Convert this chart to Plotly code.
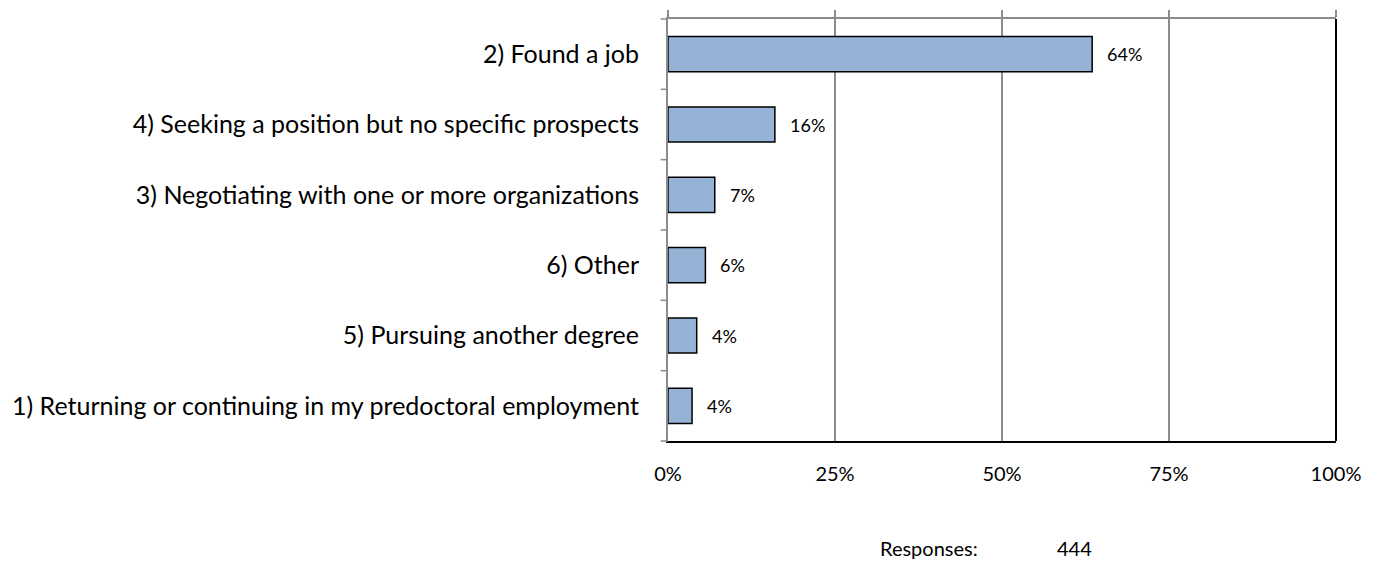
import plotly.graph_objects as go

categories = [
    "2) Found a job",
    "4) Seeking a position but no specific prospects",
    "3) Negotiating with one or more organizations",
    "6) Other",
    "5) Pursuing another degree",
    "1) Returning or continuing in my predoctoral employment",
]
values = [63.5, 16.0, 7.0, 5.6, 4.3, 3.6]
value_labels = ["64%", "16%", "7%", "6%", "4%", "4%"]
x_ticks = [0, 25, 50, 75, 100]
x_tick_labels = ["0%", "25%", "50%", "75%", "100%"]
responses = 444

FONT = "Lato"
W, H = 1377, 562
L, R, T, B = 663, 41, 14, 121

fig = go.Figure()
fig.add_trace(go.Bar(
    x=values, y=categories, orientation="h",
    marker=dict(color="#95B3D7", line=dict(color="#000000", width=1.5)),
    width=0.5, xaxis="x", yaxis="y", hoverinfo="skip",
))
# invisible trace to activate bottom axis
fig.add_trace(go.Bar(x=[None], y=[categories[0]], orientation="h", xaxis="x2", yaxis="y",
                     showlegend=False, hoverinfo="skip"))

for v, c, lab in zip(values, categories, value_labels):
    fig.add_annotation(x=v, y=c, xref="x", yref="y", text=lab, showarrow=False,
                       xanchor="left", yanchor="middle", xshift=13,
                       font=dict(family=FONT, size=18, color="#000"))

fig.update_layout(
    width=W, height=H, margin=dict(l=L, r=R, t=T, b=B),
    plot_bgcolor="white", paper_bgcolor="white", showlegend=False,
    font=dict(family=FONT, color="#000"),
    bargap=0.5,
    xaxis=dict(range=[0, 100], side="top", tickvals=x_ticks, showticklabels=False,
               showgrid=True, gridcolor="#8c8c8c", gridwidth=1.5,
               showline=True, linecolor="#8c8c8c", linewidth=2,
               ticks="outside", ticklen=7, tickcolor="#8c8c8c", tickwidth=1.5,
               zeroline=False, fixedrange=True),
    xaxis2=dict(range=[0, 100], side="bottom", overlaying="x", tickvals=x_ticks,
                ticktext=x_tick_labels, showgrid=False, showline=True,
                linecolor="#000", linewidth=2, ticks="", ticklabelstandoff=14,
                tickfont=dict(family=FONT, size=20, color="#000"), zeroline=False),
    yaxis=dict(autorange="reversed", showgrid=False, showline=True,
               linecolor="#8c8c8c", linewidth=2, ticks="",
               tickfont=dict(family=FONT, size=25, color="#000"), ticklabelstandoff=22),
)

# category boundary tick marks on the left axis
n = len(categories)
for i in range(n + 1):
    fig.add_shape(type="line", xref="paper", yref="y domain", x0=-0.011, x1=0,
                  y0=i / n, y1=i / n, line=dict(color="#8c8c8c", width=1.5))
# right border
fig.add_shape(type="line", xref="x domain", yref="y domain", x0=1, x1=1, y0=0, y1=1,
              line=dict(color="#000", width=2))

ry = -(549 - (H - B)) / (H - T - B)
fig.add_annotation(text="Responses:", xref="paper", yref="paper", x=(875 - L) / (W - L - R),
                   y=ry, xanchor="left", yanchor="middle",
                   showarrow=False, font=dict(family=FONT, size=20, color="#000"))
fig.add_annotation(text=str(responses), xref="paper", yref="paper", x=(1053 - L) / (W - L - R),
                   y=ry, xanchor="left", yanchor="middle",
                   showarrow=False, font=dict(family=FONT, size=20, color="#000"))

fig.write_html("out.html", config={"displayModeBar": False},
               post_script="document.body.style.margin='0';document.body.style.padding='0';"
                           "document.body.style.overflow='hidden';")
